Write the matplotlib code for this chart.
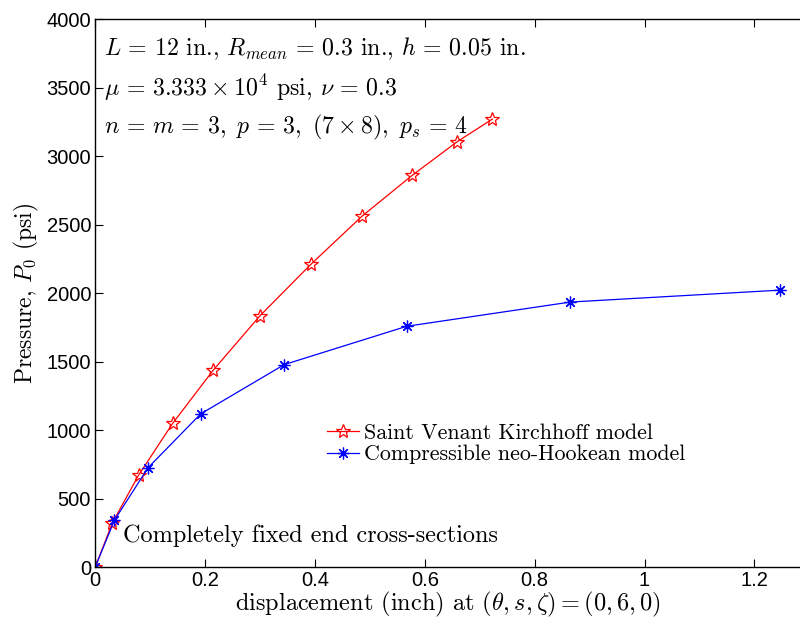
import matplotlib
matplotlib.use("Agg")
import matplotlib.pyplot as plt

# pressure-displacement data
svk_disp = [0.0, 0.031, 0.079, 0.141, 0.215, 0.300, 0.393, 0.486, 0.577, 0.659, 0.723]
svk_pres = [0, 321, 672, 1050, 1439, 1836, 2213, 2564, 2861, 3107, 3272]

nh_disp = [0.0, 0.035, 0.096, 0.192, 0.344, 0.567, 0.865, 1.247]
nh_pres = [0, 343, 725, 1119, 1479, 1759, 1936, 2023]

x_ticks = [0, 0.2, 0.4, 0.6, 0.8, 1.0, 1.2]
x_tick_labels = ["0", "0.2", "0.4", "0.6", "0.8", "1", "1.2"]
y_ticks = [0, 500, 1000, 1500, 2000, 2500, 3000, 3500, 4000]

plt.rcParams["mathtext.fontset"] = "cm"
serif = "cmr10"

fig = plt.figure(figsize=(8.0, 6.26), dpi=100)
ax = fig.add_axes([0.119, 0.094, 0.881, 0.875])

ax.plot(svk_disp, svk_pres, color="red", lw=0.9, marker="*", ms=10.5,
        mfc="none", mec="red", mew=0.9, label="Saint Venant Kirchhoff model")
ax.plot(nh_disp, nh_pres, color="blue", lw=0.9, marker=(8, 2, 0), ms=8.5,
        mec="blue", mew=0.9, label="Compressible neo-Hookean model")

ax.set_xlim(0, 1.283)
ax.set_ylim(0, 4000)
ax.set_xticks(x_ticks)
ax.set_xticklabels(x_tick_labels)
ax.set_yticks(y_ticks)
ax.tick_params(direction="in", length=6, width=0.8, top=True, labelsize=14.5,
               pad=3)
for lab in ax.get_xticklabels() + ax.get_yticklabels():
    lab.set_fontfamily("Liberation Sans")
ax.spines["right"].set_visible(False)
for s in ("left", "bottom", "top"):
    ax.spines[s].set_linewidth(1.0)

ax.set_xlabel(r"displacement (inch) at $(\theta, s, \zeta) = (0, 6, 0)$",
              fontsize=17.5, family=serif, labelpad=0)
ax.set_ylabel(r"Pressure, $P_0$ (psi)", fontsize=17, family=serif, labelpad=4)

info = [
    r"$L\,=\,12$ in., $R_{mean}\,=\,0.3$ in., $h\,=\,0.05$ in.",
    r"$\mu\,=\,3.333\times10^4$ psi, $\nu\,=\,0.3$",
    r"$n\,=\,m\,=\,3,\ p\,=\,3,\ (7\times 8),\ p_s\,=\,4$",
]
for i, line in enumerate(info):
    ax.text(0.013, 0.947 - i * 0.072, line, transform=ax.transAxes,
            fontsize=17.2, family=serif, va="center", ha="left")

ax.text(0.039, 0.058, "Completely fixed end cross-sections", transform=ax.transAxes,
        fontsize=17.5, family=serif, va="center", ha="left")

leg = ax.legend(loc="upper left", bbox_to_anchor=(0.329, 0.263), frameon=False,
                prop={"family": serif, "size": 15.8}, handlelength=1.45,
                handletextpad=0.25, labelspacing=0.1, borderaxespad=0,
                borderpad=0)

fig.savefig("out.png", dpi=100)
